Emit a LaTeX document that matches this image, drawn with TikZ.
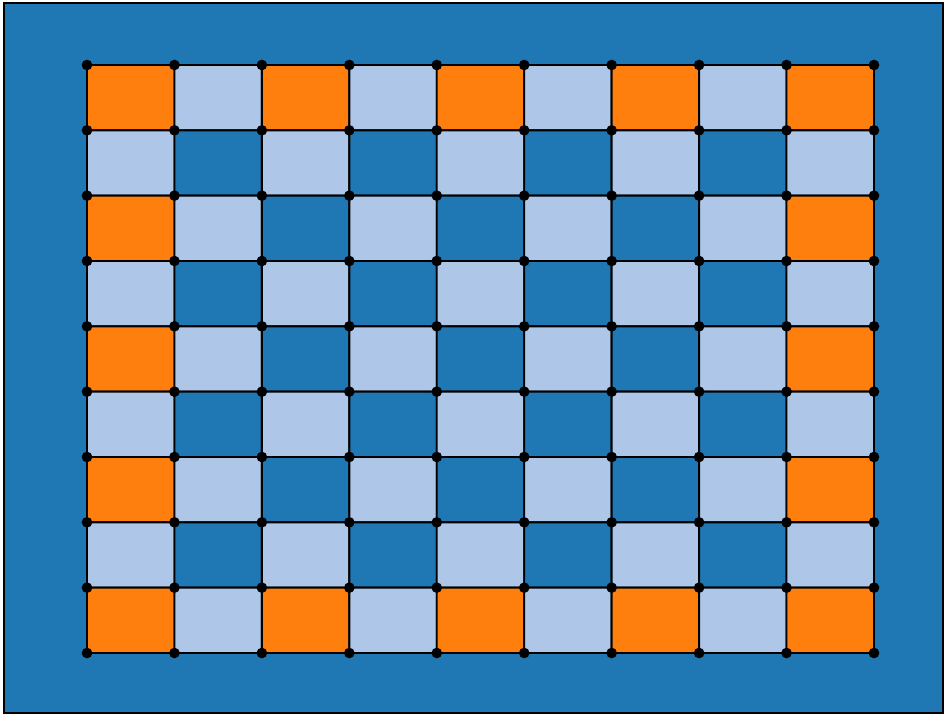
\documentclass[tikz,border=0pt]{standalone}
\usepackage{tikz}
\usetikzlibrary{calc}
\definecolor{tabblue}{HTML}{1F77B4}
\definecolor{tablight}{HTML}{AEC7E8}
\definecolor{taborange}{HTML}{FF7F0E}

\tikzset{
  tile/.style={draw=black, line width=1.4pt, rounded corners=3pt,
    inner sep=0pt, outer sep=0pt, minimum width=65.58pt, minimum height=49pt},
  gridpt/.style={circle, fill=black, inner sep=0pt, minimum size=8pt},
}

\begin{document}
\begin{tikzpicture}[x=0.75pt,y=0.75pt]
  \useasboundingbox (0,0) rectangle (947,715);
  \draw[fill=tabblue, line width=0.8pt] (4,2) rectangle (943,712);

  % tiles of the board
  \foreach \r in {0,...,8}{
    \foreach \c in {0,...,8}{
      \pgfmathtruncatemacro{\oddsum}{mod(\r+\c,2)}
      \pgfmathtruncatemacro{\rim}{(\r==0)||(\r==8)||(\c==0)||(\c==8)}
      \ifnum\oddsum=1 \def\tilecol{tablight}\else
        \ifnum\rim=1 \def\tilecol{taborange}\else\def\tilecol{tabblue}\fi\fi
      \node[tile, fill=\tilecol] (tile-\r-\c)
        at (87+\c*87.444+43.722, 650-\r*65.333-32.667) {};
    }
  }

  % grid points
  \foreach \i in {0,...,9}{
    \foreach \j in {0,...,9}{
      \node[gridpt] (pt-\j-\i) at (87+\i*87.444, 650-\j*65.333) {};
    }
  }
\end{tikzpicture}
\end{document}
